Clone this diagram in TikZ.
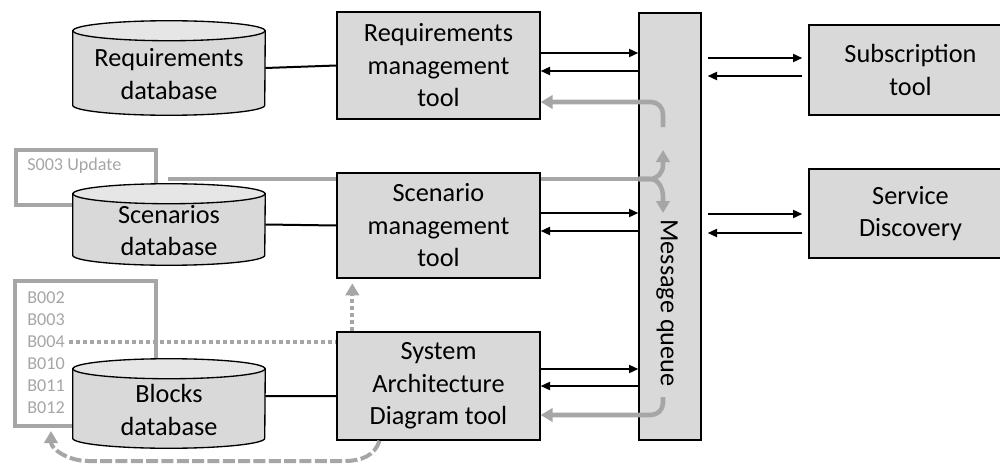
\documentclass[tikz,border=0pt]{standalone}
\usepackage{fontspec}
\setmainfont{Carlito}
\usetikzlibrary{arrows.meta,calc}
\definecolor{boxfill}{HTML}{D9D9D9}
\definecolor{dbtopfill}{HTML}{E6E6E6}
\definecolor{gcol}{HTML}{A6A6A6}
\definecolor{gtext}{HTML}{A6A6A6}
\newcommand\bigfont{\fontsize{19.7}{24.4}\selectfont}
\newcommand\smallfont{\fontsize{13.6}{16.5}\selectfont}
\newcommand\dbshape[1]{%
  \filldraw[line width=1pt, fill=boxfill] ([yshift=-7.5pt]#1.north west) -- ([yshift=7.5pt]#1.south west)
    arc[start angle=180, end angle=360, x radius=72pt, y radius=7.5pt] -- ([yshift=-7.5pt]#1.north east) -- cycle;
  \filldraw[line width=1pt, fill=dbtopfill] ([yshift=-7.5pt]#1.north) ellipse[x radius=72pt, y radius=7.5pt];
}
\begin{document}
\begin{tikzpicture}[x=0.75pt, y=-0.75pt,
  tool/.style={draw=black, line width=1pt, fill=boxfill, align=center, font=\bigfont, inner sep=0pt},
  dbnode/.style={inner sep=0pt, minimum width=144pt},
  dbtext/.style={align=center, font=\bigfont, inner sep=0pt},
  gbox/.style={draw=gcol, line width=3pt, inner sep=0pt},
  glabel/.style={text=gtext, font=\smallfont, inner sep=3pt, anchor=west},
  bline/.style={line width=1.5pt},
  barrow/.style={line width=1.5pt, -{Triangle[length=7pt,width=6pt]}},
  gline/.style={draw=gcol, line width=3.4pt},
  garrow/.style={gline, -{Triangle[length=9pt,width=10pt]}},
  gdot/.style={draw=gcol, line width=3pt, dash pattern=on 3pt off 2.25pt, -{Triangle[length=9pt,width=10pt]}},
  gdash/.style={draw=gcol, line width=3pt, dash pattern=on 9pt off 2.5pt, -{Triangle[length=9pt,width=10pt]}}
]
\useasboundingbox (0,0) rectangle (1000,464);
\clip (0,0) rectangle (1000,464);

% gray annotation boxes
\node[gbox, minimum width=105pt, minimum height=41.25pt] (s3box) at (86,177.5) {};
\node[glabel] (s3t) at (23,166) {S003 Update};
\node[gbox, minimum width=105.75pt, minimum height=108.75pt] (bbox) at (85.5,353.5) {};
\node[glabel] (b1) at (23,298) {B002};
\node[glabel] (b2) at (23,320) {B003};
\node[glabel] (b3) at (23,342) {B004};
\node[glabel] (b4) at (23,364) {B010};
\node[glabel] (b5) at (23,386) {B011};
\node[glabel] (b6) at (23,408) {B012};

% fork line (behind scenario tool)
\coordinate (sl) at (168,179);
\coordinate (fk) at (650,179);
\coordinate (fu) at (663,150);
\coordinate (fd) at (663,213);
\draw[gline] (sl) -- (fk);

% tools
\node[tool, minimum width=152.25pt, minimum height=80.25pt] (rtool) at (438.5,65.5) {Requirements\\management\\tool};
\node[tool, minimum width=152.25pt, minimum height=78.75pt] (stool) at (438.5,225.5) {Scenario\\management\\tool};

% dotted path (behind SAD tool)
\draw[gdot, shorten >=3.5pt] (b3.east) -| ($(stool.south west)+(16,0)$);

\node[tool, minimum width=152.25pt, minimum height=81pt] (sad) at (438.5,386) {System\\Architecture\\Diagram tool};
\node[tool, minimum width=46.5pt, minimum height=320.25pt] (mq) at (670,226.5) {};
\node[font=\bigfont, rotate=-90, inner sep=0pt] (mqt) at (667,303) {Message queue};
\node[tool, minimum width=152.25pt, minimum height=67.5pt] (sub) at (910.5,70) {Subscription\\tool};
\node[tool, minimum width=152.25pt, minimum height=66.75pt] (sd) at (910.5,213.5) {Service\\Discovery};

% databases
\node[dbnode, minimum height=70.5pt] (rdb) at (169,68) {};
\dbshape{rdb}
\node[dbtext, yshift=-4.5pt] (rdbt) at (rdb.center) {Requirements\\database};
\node[dbnode, minimum height=60.75pt] (sdb) at (169,224.5) {};
\dbshape{sdb}
\node[dbtext, yshift=-4.5pt] (sdbt) at (sdb.center) {Scenarios\\database};
\node[dbnode, minimum height=66.75pt] (bdb) at (169,403.5) {};
\dbshape{bdb}
\node[dbtext, yshift=-5pt] (bdbt) at (bdb.center) {Blocks\\database};

% db - tool lines
\draw[bline] (rdb.east) -- (rtool.west);
\draw[bline] (sdb.east) -- (stool.west);
\draw[bline] ([yshift=5.6pt]bdb.east) -- ([yshift=-7.5pt]sad.west);

% tool <-> queue
\draw[barrow] (rtool.east |- 0,53) -- (mq.west |- 0,53);
\draw[barrow] (mq.west |- 0,71) -- (rtool.east |- 0,71);
\draw[barrow] (stool.east |- 0,213) -- (mq.west |- 0,213);
\draw[barrow] (mq.west |- 0,231) -- (stool.east |- 0,231);
\draw[barrow] (sad.east |- 0,369) -- (mq.west |- 0,369);
\draw[barrow] (mq.west |- 0,386) -- (sad.east |- 0,386);

% queue <-> services
\draw[barrow, shorten <=4.5pt, shorten >=4.5pt] (mq.east |- 0,58) -- (sub.west |- 0,58);
\draw[barrow, shorten <=4.5pt, shorten >=4.5pt] (sub.west |- 0,76) -- (mq.east |- 0,76);
\draw[barrow, shorten <=4.5pt, shorten >=4.5pt] (mq.east |- 0,214) -- (sd.west |- 0,214);
\draw[barrow, shorten <=4.5pt, shorten >=4.5pt] (sd.west |- 0,233) -- (mq.east |- 0,233);

% gray arrows on queue
\coordinate (q1) at (663,127);
\coordinate (q2) at (663,397);
\draw[garrow, rounded corners=9pt] (q1) |- (rtool.east |- 0,102);
\draw[garrow, rounded corners=9pt] (q2) |- (sad.east |- 0,415);
\draw[garrow] (mq.west |- fk) -- (fk) to[out=0,in=-90] ($(fu)+(0,15)$) -- (fu);
\draw[garrow] (mq.west |- fk) -- (fk) to[out=0,in=90] ($(fd)+(0,-16)$) -- (fd);

% dashed return to blocks list
\draw[gdash] ($(sad.south west)+(43,0)$) to[out=-105,in=0] (345,461) -- (88,461) to[out=180,in=-90] ($(bbox.south west)+(38,3)$);
\end{tikzpicture}
\end{document}
